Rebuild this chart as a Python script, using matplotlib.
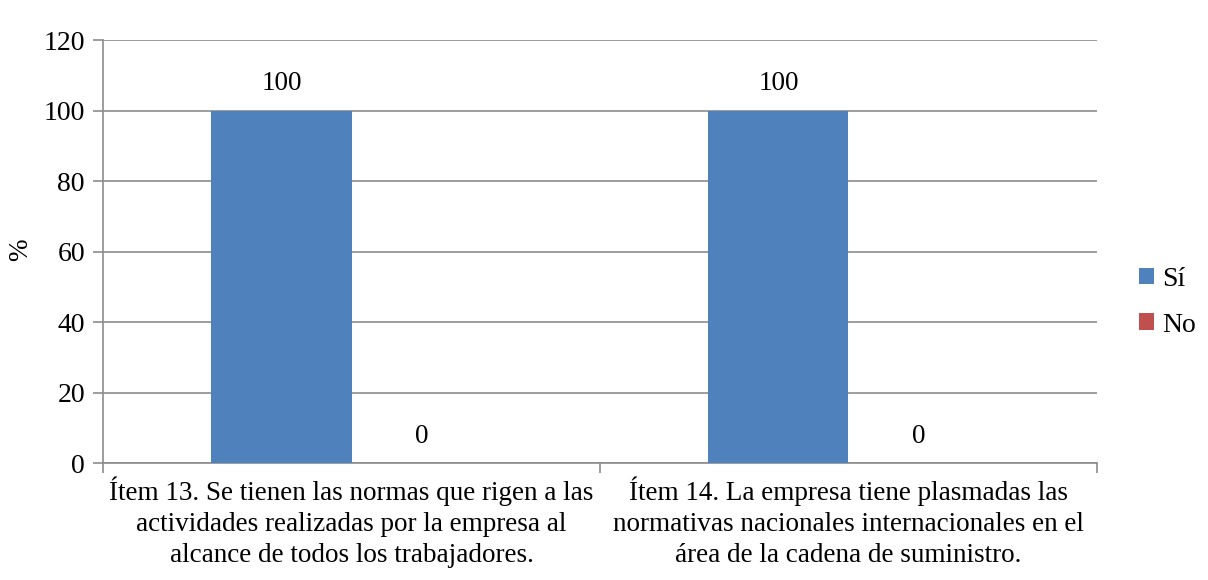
import numpy as np
import matplotlib.pyplot as plt

plt.rcParams['font.family'] = ['Liberation Serif', 'DejaVu Serif']

categorias = ["Ítem 13. Se tienen las normas que rigen a las\nactividades realizadas por la empresa al\nalcance de todos los trabajadores.",
              "Ítem 14. La empresa tiene plasmadas las\nnormativas nacionales internacionales en el\nárea de la cadena de suministro."]
si = [100, 100]
no = [0, 0]
series = ["Sí", "No"]
colores = ["#4F81BD", "#C0504D"]

fig = plt.figure(figsize=(12.08, 5.8), dpi=100)
ax = fig.add_axes([0.0853, 0.2017, 0.8228, 0.7293])

x = np.arange(len(categorias))
w = 0.282
barras_si = ax.bar(x - w/2, si, w, color=colores[0], label=series[0], zorder=3)
barras_no = ax.bar(x + w/2, no, w, color=colores[1], label=series[1], zorder=3)

for b, v in zip(barras_si, si):
    ax.text(b.get_x() + b.get_width()/2, v + 4, f"{v}", ha='center', va='bottom', fontsize=19.5)
for b, v in zip(barras_no, no):
    ax.text(b.get_x() + b.get_width()/2, v + 4, f"{v}", ha='center', va='bottom', fontsize=19.5)

ax.set_xlim(-0.5, 1.5)
ax.set_ylim(0, 120)
ax.set_yticks(range(0, 121, 20))
ax.yaxis.grid(True, color='#8c8c8c', linewidth=1.2, zorder=0)
fig.text(0.017, 0.57, '%', rotation=90, ha='center', va='center', fontsize=19.5)

# category labels, ticks at the boundaries
ax.set_xticks(x)
ax.set_xticklabels(categorias, fontsize=19.5, linespacing=1.3)
ax.tick_params(axis='x', length=0, pad=10)
ax.set_xticks([-0.5, 0.5, 1.5], minor=True)
ax.tick_params(axis='x', which='minor', length=7, color='#8c8c8c', width=1.2)
ax.tick_params(axis='y', length=7, color='#8c8c8c', width=1.2, labelsize=20, pad=6)

for s in ['top', 'right']:
    ax.spines[s].set_visible(False)
for s in ['left', 'bottom']:
    ax.spines[s].set_color('#8c8c8c')
    ax.spines[s].set_linewidth(1.2)

ax.legend(loc='center left', bbox_to_anchor=(1.042, 0.38), frameon=False, fontsize=20,
          handlelength=0.55, handleheight=0.55, handletextpad=0.3, labelspacing=0.75,
          borderpad=0, borderaxespad=0)

fig.savefig('out.png', dpi=100)
